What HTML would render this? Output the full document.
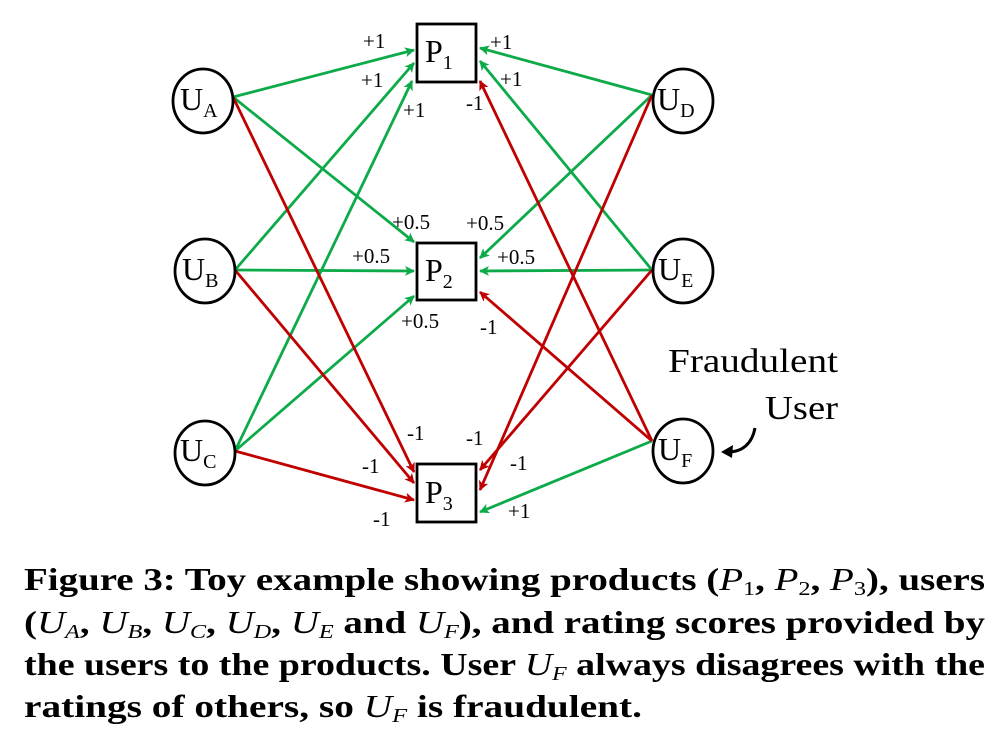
<!DOCTYPE html>
<html><head><meta charset="utf-8"><style>html,body{margin:0;padding:0;background:#fff}svg{display:block}</style></head>
<body>
<svg width="997" height="733" viewBox="0 0 997 733" xmlns="http://www.w3.org/2000/svg">
<defs>
<marker id="ag" markerWidth="10" markerHeight="10" refX="9" refY="5" orient="auto" markerUnits="userSpaceOnUse" viewBox="0 0 10 10"><path d="M0,0 L10,5 L0,10 L2.5,5 z" fill="#0daa4a"/></marker>
<marker id="ar" markerWidth="10" markerHeight="10" refX="9" refY="5" orient="auto" markerUnits="userSpaceOnUse" viewBox="0 0 10 10"><path d="M0,0 L10,5 L0,10 L2.5,5 z" fill="#c00000"/></marker>
</defs>
<g stroke-width="2.8" fill="none">
<g stroke="#0daa4a" marker-end="url(#ag)">
<line x1="233" y1="97" x2="414" y2="50"/>
<line x1="233" y1="97" x2="414" y2="242"/>
<line x1="235" y1="270" x2="414" y2="63"/>
<line x1="235" y1="270" x2="414" y2="271"/>
<line x1="235" y1="451" x2="412" y2="81"/>
<line x1="235" y1="451" x2="414" y2="296"/>
<line x1="652" y1="95" x2="480" y2="48"/>
<line x1="652" y1="95" x2="480" y2="258"/>
<line x1="652" y1="270" x2="480" y2="61"/>
<line x1="652" y1="270" x2="480" y2="271"/>
<line x1="652" y1="441" x2="480" y2="512"/>
</g>
<g stroke="#c00000" marker-end="url(#ar)">
<line x1="233" y1="97" x2="414" y2="472"/>
<line x1="235" y1="270" x2="414" y2="483"/>
<line x1="235" y1="451" x2="414" y2="500"/>
<line x1="652" y1="95" x2="480" y2="490"/>
<line x1="652" y1="270" x2="480" y2="470"/>
<line x1="652" y1="441" x2="480" y2="81"/>
<line x1="652" y1="441" x2="480" y2="292"/>
</g>
</g>
<g fill="#fff" stroke="#000" stroke-width="2.8">
<ellipse cx="203" cy="101" rx="30" ry="32"/>
<ellipse cx="205" cy="271" rx="30" ry="32"/>
<ellipse cx="205" cy="453" rx="30" ry="32"/>
<ellipse cx="683" cy="101" rx="30" ry="32"/>
<ellipse cx="683" cy="271" rx="30" ry="32"/>
<ellipse cx="683" cy="451" rx="30" ry="32"/>
<rect x="417" y="24" width="59" height="58"/>
<rect x="417" y="243" width="59" height="57"/>
<rect x="417" y="464" width="59" height="58"/>
</g>
<g font-family="Liberation Serif, serif" fill="#000" font-size="32">
<text x="180" y="110">U<tspan font-size="20" dy="7">A</tspan></text>
<text x="182" y="280">U<tspan font-size="20" dy="7">B</tspan></text>
<text x="180" y="461">U<tspan font-size="20" dy="7">C</tspan></text>
<text x="657" y="110">U<tspan font-size="20" dy="7">D</tspan></text>
<text x="658" y="280">U<tspan font-size="20" dy="7">E</tspan></text>
<text x="658" y="460">U<tspan font-size="20" dy="7">F</tspan></text>
<text x="425" y="62">P<tspan font-size="20" dy="7">1</tspan></text>
<text x="425" y="281">P<tspan font-size="20" dy="7">2</tspan></text>
<text x="425" y="503">P<tspan font-size="20" dy="7">3</tspan></text>
<text x="668" y="372" font-size="34" textLength="170" lengthAdjust="spacingAndGlyphs">Fraudulent</text>
<text x="765" y="419" font-size="34" textLength="73" lengthAdjust="spacingAndGlyphs">User</text>
</g>
<g font-family="Liberation Serif, serif" fill="#000" font-size="21">
<text x="363" y="48">+1</text>
<text x="361" y="87">+1</text>
<text x="403" y="117">+1</text>
<text x="490" y="49">+1</text>
<text x="500" y="86">+1</text>
<text x="466" y="110">-1</text>
<text x="392" y="229">+0.5</text>
<text x="466" y="230">+0.5</text>
<text x="352" y="263">+0.5</text>
<text x="497" y="264">+0.5</text>
<text x="401" y="328">+0.5</text>
<text x="480" y="334">-1</text>
<text x="407" y="440">-1</text>
<text x="466" y="445">-1</text>
<text x="362" y="473">-1</text>
<text x="510" y="470">-1</text>
<text x="373" y="526">-1</text>
<text x="508" y="518">+1</text>
</g>
<path d="M755,428 C752,444 742,452 728,452" stroke="#000" stroke-width="3" fill="none"/>
<path d="M721,452 L733,445 L732,458 z" fill="#000"/>
<g font-family="Liberation Serif, serif" font-weight="bold" font-size="32" fill="#000">
<text x="24" y="590" textLength="961" lengthAdjust="spacingAndGlyphs">Figure 3: Toy example showing products (<tspan font-style="italic" font-weight="normal">P</tspan><tspan font-size="20" font-weight="normal" dy="5">1</tspan><tspan dy="-5">, </tspan><tspan font-style="italic" font-weight="normal">P</tspan><tspan font-size="20" font-weight="normal" dy="5">2</tspan><tspan dy="-5">, </tspan><tspan font-style="italic" font-weight="normal">P</tspan><tspan font-size="20" font-weight="normal" dy="5">3</tspan><tspan dy="-5">), users</tspan></text>
<text x="24" y="633" textLength="961" lengthAdjust="spacingAndGlyphs">(<tspan font-style="italic" font-weight="normal">U</tspan><tspan font-size="20" font-style="italic" font-weight="normal" dy="5">A</tspan><tspan dy="-5">, </tspan><tspan font-style="italic" font-weight="normal">U</tspan><tspan font-size="20" font-style="italic" font-weight="normal" dy="5">B</tspan><tspan dy="-5">, </tspan><tspan font-style="italic" font-weight="normal">U</tspan><tspan font-size="20" font-style="italic" font-weight="normal" dy="5">C</tspan><tspan dy="-5">, </tspan><tspan font-style="italic" font-weight="normal">U</tspan><tspan font-size="20" font-style="italic" font-weight="normal" dy="5">D</tspan><tspan dy="-5">, </tspan><tspan font-style="italic" font-weight="normal">U</tspan><tspan font-size="20" font-style="italic" font-weight="normal" dy="5">E</tspan><tspan dy="-5"> and </tspan><tspan font-style="italic" font-weight="normal">U</tspan><tspan font-size="20" font-style="italic" font-weight="normal" dy="5">F</tspan><tspan dy="-5">), and rating scores provided by</tspan></text>
<text x="24" y="675" textLength="961" lengthAdjust="spacingAndGlyphs">the users to the products. User <tspan font-style="italic" font-weight="normal">U</tspan><tspan font-size="20" font-style="italic" font-weight="normal" dy="5">F</tspan><tspan dy="-5"> always disagrees with the</tspan></text>
<text x="24" y="717" textLength="618" lengthAdjust="spacingAndGlyphs">ratings of others, so <tspan font-style="italic" font-weight="normal">U</tspan><tspan font-size="20" font-style="italic" font-weight="normal" dy="5">F</tspan><tspan dy="-5"> is fraudulent.</tspan></text>
</g>
</svg>
</body></html>
